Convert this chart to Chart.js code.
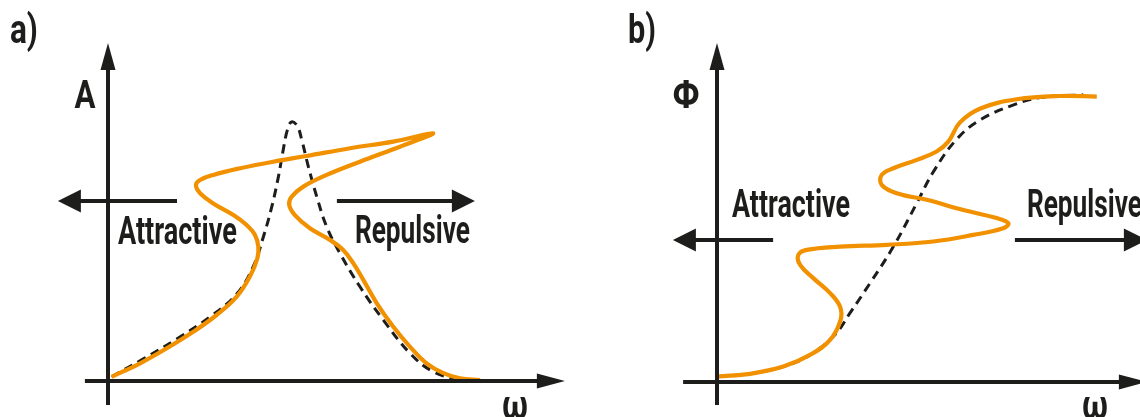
<!DOCTYPE html>
<html>
<head>
<meta charset="utf-8">
<script src="https://cdn.jsdelivr.net/npm/chart.js@4/dist/chart.umd.min.js"></script>
<style>
  body { margin: 0; background: #fff; }
  .wrap { display: flex; width: 1140px; height: 417px; }
  .panel { width: 570px; height: 417px; }
</style>
</head>
<body>
<div class="wrap">
  <div class="panel"><canvas id="ampChart" width="570" height="417"></canvas></div>
  <div class="panel"><canvas id="phaseChart" width="570" height="417"></canvas></div>
</div>
<script>
// a) amplitude response: linear (dashed) and nonlinear (orange)
const linOmegaA = [0.12, 1.18, 2.29, 3.4, 4.29, 4.84, 5.18, 5.46, 5.68, 5.84, 5.98, 6.12, 6.31, 6.46, 6.68, 6.96, 7.29, 7.73, 8.4, 9.18, 10.07, 10.84, 11.73, 12.29];
const linAmpA   = [0.14, 0.74, 1.4, 2.14, 2.9, 3.81, 4.81, 5.81, 6.81, 7.7, 8.37, 8.64, 8.5, 8.03, 7.14, 6.14, 5.14, 4.26, 3.14, 2.03, 0.92, 0.31, 0.05, 0.03];

const nlOmegaA = [0.12, 1.07, 1.96, 2.84, 3.62, 4.29, 4.73, 4.98, 5.01, 4.9, 4.62, 4.18, 3.51, 3.07, 2.93, 3.07, 3.51, 4.4, 5.51, 6.62, 8.07, 9.51, 10.84,
                  9.73, 8.4, 7.29, 6.51, 6.12, 6.04, 6.23, 6.73, 7.4, 7.84, 8.18, 8.51, 8.96, 9.51, 10.07, 10.62, 11.18, 11.73, 12.4];
const nlAmpA   = [0.14, 0.59, 1.09, 1.64, 2.2, 2.81, 3.48, 4.09, 4.48, 4.87, 5.2, 5.53, 5.92, 6.26, 6.53, 6.7, 6.87, 7.09, 7.31, 7.5, 7.76, 7.98, 8.26,
                  7.81, 7.31, 6.87, 6.48, 6.14, 5.87, 5.53, 5.09, 4.7, 4.37, 3.92, 3.37, 2.59, 1.81, 1.14, 0.59, 0.26, 0.09, 0.03];

// b) phase response
const linOmegaB = [0.04, 1.1, 2.21, 3.1, 3.93, 4.43, 5.1, 5.88, 6.66, 7.21, 8.0, 8.8, 9.8, 10.77, 12.21];
const linPhaseB = [0.18, 0.27, 0.51, 0.9, 1.57, 2.29, 3.29, 4.51, 5.96, 7.0, 8.1, 8.75, 9.2, 9.48, 9.57];

const nlOmegaB = [0.04, 1.1, 2.21, 3.1, 3.77, 4.12, 4.1, 3.77, 3.21, 2.77, 2.71, 2.99, 4.1, 5.66, 7.21, 8.54, 9.54, 9.71, 9.32, 8.21, 6.99, 5.99,
                  5.49, 5.49, 5.88, 6.66, 7.32, 7.71, 8.1, 8.8, 9.99, 11.43, 12.66];
const nlPhaseB = [0.18, 0.27, 0.51, 0.9, 1.4, 2.07, 2.51, 2.96, 3.46, 3.9, 4.23, 4.4, 4.51, 4.57, 4.68, 4.9, 5.12, 5.29, 5.46, 5.73, 6.07, 6.29,
                  6.57, 6.9, 7.12, 7.4, 7.68, 8.01, 8.65, 9.12, 9.42, 9.53, 9.51];

const ORANGE = '#f29100';
const INK = '#1d1d1b';
const FONT = 'Roboto, "Liberation Sans", sans-serif';

function toPoints(xs, ys) {
    return xs.map((x, i) => ({ x: x, y: ys[i] }));
}

// draws a straight arrow from (x0,y0) to a filled tip at (x1,y1), in pixels
function drawArrow(ctx, x0, y0, x1, y1, headLen, headHalf, width) {
    const ang = Math.atan2(y1 - y0, x1 - x0);
    const bx = x1 - Math.cos(ang) * headLen;
    const by = y1 - Math.sin(ang) * headLen;
    ctx.lineWidth = width;
    ctx.beginPath();
    ctx.moveTo(x0, y0);
    ctx.lineTo(bx + Math.cos(ang) * 2, by + Math.sin(ang) * 2);
    ctx.stroke();
    ctx.beginPath();
    ctx.moveTo(x1, y1);
    ctx.lineTo(bx - Math.sin(ang) * headHalf, by + Math.cos(ang) * headHalf);
    ctx.lineTo(bx + Math.sin(ang) * headHalf, by - Math.cos(ang) * headHalf);
    ctx.closePath();
    ctx.fill();
}

// axes, side arrows and labels, placed in data units
const sketchPlugin = {
    id: 'sketch',
    afterDatasetsDraw(chart, args, opts) {
        const { ctx } = chart;
        const sx = chart.scales.x, sy = chart.scales.y;
        const px = v => sx.getPixelForValue(v);
        const py = v => sy.getPixelForValue(v);
        ctx.save();
        ctx.strokeStyle = INK;
        ctx.fillStyle = INK;
        ctx.lineCap = 'butt';
        opts.arrows.forEach(a => {
            drawArrow(ctx, px(a.from[0]), py(a.from[1]), px(a.to[0]), py(a.to[1]), a.len, a.half, a.width);
        });
        opts.labels.forEach(l => {
            ctx.font = '700 ' + l.size + 'px ' + FONT;
            ctx.textBaseline = 'alphabetic';
            ctx.textAlign = l.align || 'left';
            const w = ctx.measureText(l.text).width;
            const k = l.width ? l.width / w : 1;
            ctx.save();
            ctx.translate(px(l.x), py(l.y));
            ctx.scale(k, 1);
            ctx.fillText(l.text, 0, 0);
            ctx.restore();
        });
        ctx.restore();
    }
};

function makeChart(id, frame, lin, nl, sketch) {
    return new Chart(document.getElementById(id), {
        type: 'scatter',
        data: {
            datasets: [
                {
                    data: nl,
                    showLine: true,
                    borderColor: ORANGE,
                    borderWidth: 4.2,
                    tension: 0.4,
                    pointRadius: 0,
                    clip: false,
                    order: 0
                },
                {
                    data: lin,
                    showLine: true,
                    borderColor: INK,
                    borderWidth: 3,
                    borderDash: [9, 6],
                    tension: 0.4,
                    pointRadius: 0,
                    clip: false,
                    order: 1
                }
            ]
        },
        options: {
            responsive: false,
            animation: false,
            events: [],
            layout: { padding: 0 },
            scales: {
                x: { type: 'linear', min: frame.xMin, max: frame.xMax, display: false },
                y: { type: 'linear', min: frame.yMin, max: frame.yMax, display: false }
            },
            plugins: {
                legend: { display: false },
                tooltip: { enabled: false },
                sketch: sketch
            }
        },
        plugins: [sketchPlugin]
    });
}

makeChart('ampChart',
    { xMin: -3.6, xMax: 15.4, yMin: -1.2, yMax: 12.7 },
    toPoints(linOmegaA, linAmpA),
    toPoints(nlOmegaA, nlAmpA),
    {
        arrows: [
            { from: [-0.77, 0], to: [15.23, 0], len: 28, half: 7.5, width: 4 },
            { from: [0, -0.8], to: [0, 11.27], len: 27, half: 7.5, width: 4 },
            { from: [2.3, 6.0], to: [-1.67, 6.0], len: 23, half: 11.5, width: 4 },
            { from: [7.63, 6.0], to: [12.23, 6.0], len: 23, half: 11.5, width: 4 }
        ],
        labels: [
            { text: 'a)', x: -3.27, y: 11.27, size: 40, width: 28 },
            { text: 'A', x: -0.77, y: 9.1, size: 39, width: 21, align: 'center' },
            { text: 'Attractive', x: 0.33, y: 4.57, size: 38, width: 119 },
            { text: 'Repulsive', x: 8.23, y: 4.6, size: 38, width: 115 },
            { text: 'ω', x: 13.57, y: -1.27, size: 40, width: 26, align: 'center' }
        ]
    });

makeChart('phaseChart',
    { xMin: -4.9, xMax: 14.1, yMin: -1.17, yMax: 12.73 },
    toPoints(linOmegaB, linPhaseB),
    toPoints(nlOmegaB, nlPhaseB),
    {
        arrows: [
            { from: [-1.13, 0], to: [14.33, 0], len: 28, half: 7.5, width: 4 },
            { from: [0, -0.77], to: [0, 11.3], len: 27, half: 7.5, width: 4 },
            { from: [1.87, 4.73], to: [-1.47, 4.73], len: 23, half: 11.5, width: 4 },
            { from: [9.93, 4.73], to: [14.33, 4.73], len: 23, half: 11.5, width: 4 }
        ],
        labels: [
            { text: 'b)', x: -2.97, y: 11.3, size: 40, width: 28 },
            { text: 'Φ', x: -1.03, y: 9.13, size: 39, width: 27, align: 'center' },
            { text: 'Attractive', x: 0.5, y: 5.5, size: 38, width: 118 },
            { text: 'Repulsive', x: 10.33, y: 5.5, size: 38, width: 115 },
            { text: 'ω', x: 12.6, y: -1.23, size: 40, width: 26, align: 'center' }
        ]
    });
</script>
</body>
</html>
